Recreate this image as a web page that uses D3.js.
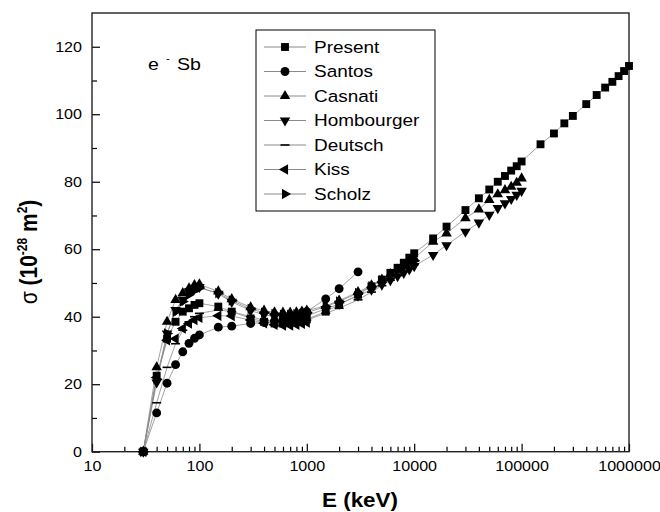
<!DOCTYPE html>
<html>
<head>
<meta charset="utf-8">
<script src="https://cdn.jsdelivr.net/npm/d3@7"></script>
<style>
  body { margin: 0; background: #fff; }
  text { font-family: "Liberation Sans", Arial, sans-serif; fill: #000; }
</style>
</head>
<body>
<svg id="chart" width="660" height="512"></svg>
<script>
// ---- data ----
const energies = [30, 40, 50, 60, 70, 80, 90, 100, 150, 200, 300, 400, 500, 600, 700, 800, 900,
  1000, 1500, 2000, 3000, 4000, 5000, 6000, 7000, 8000, 9000, 10000, 15000, 20000, 30000,
  40000, 50000, 60000, 70000, 80000, 90000, 100000];
const energiesHigh = [150000, 200000, 250000, 300000, 400000, 500000, 600000, 700000, 800000, 900000, 1000000];

const present = [0, 22.5, 33.5, 38.5, 41.5, 42.5, 43.5, 44, 43, 41.5, 39.5, 38.5, 38, 38, 38.2, 38.5, 38.8,
  39.2, 41.5, 43.5, 46.5, 49, 51, 53, 54.5, 56, 57.5, 58.8, 63.2, 66.7, 71.6,
  75.1, 77.7, 80, 81.7, 83.3, 84.6, 86,
  91.1, 94.3, 97.3, 99.5, 103, 105.7, 107.9, 109.6, 111.3, 112.8, 114.3];
const santos = [0, 11.5, 20.3, 25.8, 29.6, 32.1, 33.6, 34.6, 36.9, 37.2, 38, 38.3, 38.7, 39.2, 39.7, 40.2, 40.7,
  41.5, 45.3, 48.3, 53.3];
const casnati = [0, 25, 38.5, 45, 47, 48.4, 49.4, 49.6, 47.5, 45.2, 42.8, 41.8, 41.3, 41.2, 41.2, 41.3, 41.5,
  41.8, 43.2, 44.8, 47.3, 49.3, 51, 52.6, 54, 55.2, 56.3, 57.3, 62.2, 64.7, 69.2,
  71.8, 74.6, 76.3, 77.5, 78.5, 79.7, 81];
const hombourger = [0, 20.5, 35, 42, 45, 47.5, 48.6, 48.8, 46.8, 44.4, 41.8, 40.6, 40, 39.8, 39.8, 39.9, 40,
  40.3, 42.3, 43.8, 46.2, 48, 49.5, 50.8, 52, 53, 54, 55, 58.3, 61.2, 65.2,
  67.9, 70.2, 72.2, 73.6, 74.9, 76.1, 77.3];
const deutsch = [0, 14.5, 25, 32, 36, 38.5, 40, 41, 42, 41.5, 40, 39, 38.6, 38.5, 38.5, 38.6, 38.8,
  39, 41, 42.5, 45, 47.3, 49.2, 50.8, 52.2, 53.4, 54.4, 55.4];
const kiss = [0, 22, 33, 33.5, 36.5, 38, 39, 39.7, 40.3, 40.2, 39, 38.1, 37.6, 37.4, 37.4, 37.6, 37.9, 38.3];
const scholz = [0, 21.5, 35, 41.5, 44.5, 46.5, 47.8, 48.5, 47, 44.8, 42.3, 41.2, 40.8, 40.6, 40.6, 40.7, 40.9,
  41.2, 43, 44.5, 47, 49, 50.8, 52.3, 53.6, 54.7, 55.7, 56.6];

const seriesNames = ["Present", "Santos", "Casnati", "Hombourger", "Deutsch", "Kiss", "Scholz"];
const seriesValues = [present, santos, casnati, hombourger, deutsch, kiss, scholz];
const seriesMarkers = ["square", "circle", "up", "down", "dash", "left", "right"];

const xTicks = [10, 100, 1000, 10000, 100000, 1000000];
const yTicks = [0, 20, 40, 60, 80, 100, 120];
const yMinorTicks = [10, 30, 50, 70, 90, 110];

// ---- layout ----
const stretch = 1.15; // the figure text is a bit wide
const plot = { left: 92, right: 629, top: 13, bottom: 451.7 };

const svg = d3.select("#chart");

const x = d3.scaleLog()
  .domain([10, 1000000])
  .range([plot.left, plot.right]);
const y = d3.scaleLinear()
  .domain([0, 130])
  .range([plot.bottom, plot.top]);

const allE = energies.concat(energiesHigh);

// minor ticks on the log axis: 2..9 of each decade
let xMinor = [];
for (let d = 10; d < 1000000; d *= 10) {
  for (let k = 2; k <= 9; k++) xMinor.push(d * k);
}

// X axis
svg.append("g")
  .attr("transform", `translate(0, ${plot.bottom})`)
  .call(d3.axisBottom(x).tickValues(xMinor).tickSize(-5).tickFormat(""))
  .call(g => g.select(".domain").remove())
  .selectAll("line").attr("stroke", "#000").attr("stroke-width", 1.2);

const xAxis = svg.append("g")
  .attr("transform", `translate(0, ${plot.bottom})`)
  .call(d3.axisBottom(x).tickValues(xTicks).tickSize(-8).tickPadding(9).tickFormat(d3.format("d")))
  .call(g => g.select(".domain").remove());
xAxis.selectAll("line").attr("stroke", "#000").attr("stroke-width", 1.2);
xAxis.selectAll("text")
  .attr("font-size", 14)
  .attr("font-family", "Liberation Sans, Arial, sans-serif")
  .attr("transform", `scale(${stretch},1)`);

// Y axis
svg.append("g")
  .attr("transform", `translate(${plot.left}, 0)`)
  .call(d3.axisLeft(y).tickValues(yMinorTicks).tickSize(-5).tickFormat(""))
  .call(g => g.select(".domain").remove())
  .selectAll("line").attr("stroke", "#000").attr("stroke-width", 1.2);

const yAxis = svg.append("g")
  .attr("transform", `translate(${plot.left}, 0)`)
  .call(d3.axisLeft(y).tickValues(yTicks).tickSize(-8).tickPadding(10 / stretch))
  .call(g => g.select(".domain").remove());
yAxis.selectAll("line").attr("stroke", "#000").attr("stroke-width", 1.2);
yAxis.selectAll("text")
  .attr("font-size", 14)
  .attr("font-family", "Liberation Sans, Arial, sans-serif")
  .attr("transform", `scale(${stretch},1)`);

// frame
svg.append("rect")
  .attr("x", plot.left)
  .attr("y", plot.top)
  .attr("width", plot.right - plot.left)
  .attr("height", plot.bottom - plot.top)
  .attr("fill", "none")
  .attr("stroke", "#222")
  .attr("stroke-width", 1.4);

// ---- markers ----
function markerPath(kind, g) {
  if (kind === "dash") {
    return g.append("path").attr("d", "M-4.5,0H4.5").attr("stroke", "#000").attr("stroke-width", 1.6).attr("fill", "none");
  }
  let sym;
  if (kind === "square") sym = d3.symbol(d3.symbolSquare, 62);
  else if (kind === "circle") sym = d3.symbol(d3.symbolCircle, 62);
  else sym = d3.symbol(d3.symbolTriangle, 48);
  const rot = { up: 0, down: 180, left: -90, right: 90 }[kind] || 0;
  return g.append("path").attr("d", sym()).attr("fill", "#000")
    .attr("transform", `rotate(${rot})`);
}

const line = d3.line()
  .x(d => x(d.e))
  .y(d => y(d.v));

const seriesData = seriesValues.map(vals => vals.map((v, i) => ({ e: allE[i], v: v })));

// connecting lines first
svg.append("g")
  .selectAll("path")
  .data(seriesData)
  .join("path")
  .attr("d", line)
  .attr("fill", "none")
  .attr("stroke", "#8a8a8a")
  .attr("stroke-width", 0.8);

// then the symbols
seriesData.forEach((data, s) => {
  const g = svg.append("g");
  data.forEach(d => {
    const m = g.append("g").attr("transform", `translate(${x(d.e)}, ${y(d.v)})`);
    markerPath(seriesMarkers[s], m);
  });
});

// ---- legend ----
const legend = svg.append("g");
legend.append("rect")
  .attr("x", 256).attr("y", 30)
  .attr("width", 179).attr("height", 181)
  .attr("fill", "#fff")
  .attr("stroke", "#000")
  .attr("stroke-width", 1);

seriesNames.forEach((name, i) => {
  const ly = 47 + i * 24.5;
  legend.append("line")
    .attr("x1", 264).attr("x2", 306)
    .attr("y1", ly).attr("y2", ly)
    .attr("stroke", "#8a8a8a").attr("stroke-width", 1);
  const m = legend.append("g").attr("transform", `translate(285, ${ly})`);
  markerPath(seriesMarkers[i], m).attr("fill", "#000");
  legend.append("text")
    .attr("transform", `translate(314, ${ly}) scale(${stretch},1)`)
    .attr("dy", "0.36em")
    .attr("font-size", 16.5)
    .text(name);
});

// ---- annotation ----
svg.append("text")
  .attr("transform", `translate(148, 70) scale(${stretch},1)`)
  .attr("font-size", 17)
  .text("e");
svg.append("text")
  .attr("transform", `translate(166, 62) scale(${stretch},1)`)
  .attr("font-size", 10)
  .text("-");
svg.append("text")
  .attr("transform", `translate(177, 70) scale(${stretch},1)`)
  .attr("font-size", 17)
  .text("Sb");

// ---- axis titles ----
svg.append("text")
  .attr("transform", `translate(360, 507) scale(${stretch},1)`)
  .attr("text-anchor", "middle")
  .attr("font-size", 19.5)
  .attr("font-weight", "bold")
  .text("E (keV)");

const yTitle = svg.append("text")
  .attr("transform", `translate(37, 252) rotate(-90) scale(1,${stretch})`)
  .attr("text-anchor", "middle")
  .attr("font-size", 21)
  .attr("font-weight", "bold");
yTitle.append("tspan").attr("font-weight", "normal").text("σ");
yTitle.append("tspan").text(" (10");
yTitle.append("tspan").attr("font-size", 12).attr("dy", -9).text("-28");
yTitle.append("tspan").attr("dy", 9).text(" m");
yTitle.append("tspan").attr("font-size", 12).attr("dy", -9).text("2");
yTitle.append("tspan").attr("dy", 9).text(")");
</script>
</body>
</html>
